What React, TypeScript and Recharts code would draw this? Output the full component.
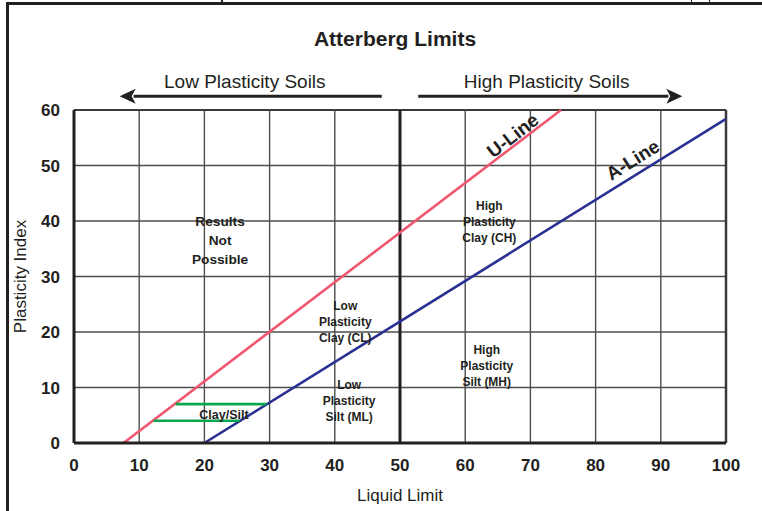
import { LineChart, Line, XAxis, YAxis, CartesianGrid, ReferenceLine, ReferenceDot } from "recharts"

const FONT = "'Liberation Sans', Arial, Helvetica, sans-serif"
const INK = "#231f20"

const xTicks = [0, 10, 20, 30, 40, 50, 60, 70, 80, 90, 100]
const yTicks = [0, 10, 20, 30, 40, 50, 60]

// U-line and A-line end points (LL, PI)
const uLine = [
  { ll: 7.6, pi: 0 },
  { ll: 74.7, pi: 60 },
]
const aLine = [
  { ll: 20, pi: 0 },
  { ll: 100, pi: 58.4 },
]
// clay/silt band limits
const bandLow = [
  { ll: 12.2, pi: 4 },
  { ll: 25.4, pi: 4 },
]
const bandHigh = [
  { ll: 15.6, pi: 7 },
  { ll: 29.5, pi: 7 },
]

const zones = [
  { lines: ["Results", "Not", "Possible"], ll: 22.4, pi: 36.4, big: true },
  { lines: ["Low", "Plasticity", "Clay (CL)"], ll: 41.6, pi: 21.8, big: false },
  { lines: ["Low", "Plasticity", "Silt (ML)"], ll: 42.2, pi: 7.6, big: false },
  { lines: ["High", "Plasticity", "Clay (CH)"], ll: 63.7, pi: 39.8, big: false },
  { lines: ["High", "Plasticity", "Silt (MH)"], ll: 63.3, pi: 13.9, big: false },
]

const lineNames = [
  { text: "U-Line", ll: 67.3, pi: 55.4, angle: -37.5 },
  { text: "A-Line", ll: 85.7, pi: 51, angle: -32 },
]

const soilGroups = [
  { text: "Low Plasticity Soils", ll: 26.2, from: 47.2, to: 7.0 },
  { text: "High Plasticity Soils", ll: 72.5, from: 52.8, to: 93.3 },
]

function Arrow(props: any) {
  const { x1, y1, x2, y2 } = props
  const dir = x2 > x1 ? 1 : -1
  const tip = x2
  const base = x2 - dir * 16
  return (
    <g>
      <line x1={x1} y1={y1} x2={base + dir * 2} y2={y2} stroke={INK} strokeWidth={3} />
      <polygon points={`${tip},${y2} ${base},${y2 - 7.5} ${base + dir * 4},${y2} ${base},${y2 + 7.5}`} fill={INK} />
    </g>
  )
}

export default function App() {
  return (
    <div style={{ position: "absolute", left: 0, top: 0, width: 762, height: 511, background: "#fff", fontFamily: FONT }}>
      <div style={{ position: "absolute", left: 6, top: 2, width: 756, height: 509, borderLeft: `3px solid ${INK}`, borderTop: `3px solid ${INK}` }} />
      <div style={{ position: "absolute", left: 221, top: 0, width: 2, height: 3, background: INK }} />
      <div style={{ position: "absolute", left: 691, top: 0, width: 1, height: 3, background: INK }} />
      <div style={{ position: "absolute", left: 709, top: 0, width: 1, height: 3, background: INK }} />
      <div style={{ position: "absolute", left: 0, top: 27, width: 790, textAlign: "center", fontSize: 21, fontWeight: "bold", color: INK }}>
        Atterberg Limits
      </div>
      <LineChart width={762} height={511} margin={{ top: 110, right: 36, bottom: 0, left: 0 }} style={{ position: "absolute", left: 0, top: 0 }}>
        <CartesianGrid stroke="#4d4d4d" strokeWidth={1.4} />
        <XAxis
          type="number"
          dataKey="ll"
          domain={[0, 100]}
          ticks={xTicks}
          interval={0}
          height={68}
          tickLine={false}
          tickSize={6}
          tickMargin={10}
          axisLine={{ stroke: INK, strokeWidth: 3 }}
          tick={{ fill: INK, fontSize: 17, fontWeight: "bold", fontFamily: FONT }}
          label={{
            content: (p: any) => (
              <text x={p.viewBox.x + p.viewBox.width / 2} y={p.viewBox.y + 52} textAnchor="middle" dominantBaseline="central" fill={INK} fontSize={17} fontFamily={FONT}>
                Liquid Limit
              </text>
            ),
          }}
        />
        <YAxis
          type="number"
          domain={[0, 60]}
          ticks={yTicks}
          interval={0}
          width={74}
          tickLine={false}
          tickSize={6}
          tickMargin={8}
          axisLine={{ stroke: INK, strokeWidth: 3 }}
          tick={{ fill: INK, fontSize: 17, fontWeight: "bold", fontFamily: FONT }}
          label={{
            content: (p: any) => {
              const cx = p.viewBox.x + 20
              const cy = p.viewBox.y + p.viewBox.height / 2
              return (
                <text x={cx} y={cy} transform={`rotate(-90 ${cx} ${cy})`} textAnchor="middle" dominantBaseline="central" fill={INK} fontSize={17} fontFamily={FONT}>
                  Plasticity Index
                </text>
              )
            },
          }}
        />
        <ReferenceLine x={100} stroke="#3a3a3a" strokeWidth={2.5} />
        <ReferenceLine y={60} stroke="#3a3a3a" strokeWidth={2} />
        <ReferenceLine x={50} stroke={INK} strokeWidth={3} />

        <Line data={uLine} dataKey="pi" stroke="#f0566e" strokeWidth={2.6} dot={false} isAnimationActive={false} />
        <Line data={aLine} dataKey="pi" stroke="#2b3192" strokeWidth={2.6} dot={false} isAnimationActive={false} />
        <Line data={bandLow} dataKey="pi" stroke="#0aa64f" strokeWidth={2.6} dot={false} isAnimationActive={false} />
        <Line data={bandHigh} dataKey="pi" stroke="#0aa64f" strokeWidth={2.6} dot={false} isAnimationActive={false} />

        {zones.map((z) => (
          <ReferenceDot
            key={z.lines.join(" ")}
            x={z.ll}
            y={z.pi}
            r={0}
            shape={(p: any) => {
              const gap = z.big ? 19 : 16
              return (
                <text x={p.cx} y={p.cy} textAnchor="middle" fill={INK} fontSize={z.big ? 13.7 : 12} fontWeight="bold" fontFamily={FONT}>
                  {z.lines.map((t, i) => (
                    <tspan key={t} x={p.cx} y={p.cy + (i - 1) * gap} dominantBaseline="central">
                      {t}
                    </tspan>
                  ))}
                </text>
              )
            }}
          />
        ))}
        <ReferenceDot
          x={23}
          y={5}
          r={0}
          shape={(p: any) => (
            <text x={p.cx} y={p.cy} textAnchor="middle" dominantBaseline="central" fill={INK} fontSize={12.5} fontWeight="bold" fontFamily={FONT}>
              Clay/Silt
            </text>
          )}
        />
        {lineNames.map((n) => (
          <ReferenceDot
            key={n.text}
            x={n.ll}
            y={n.pi}
            r={0}
            shape={(p: any) => (
              <text x={p.cx} y={p.cy} transform={`rotate(${n.angle} ${p.cx} ${p.cy})`} textAnchor="middle" dominantBaseline="central" fill={INK} fontSize={19} fontWeight="bold" fontFamily={FONT}>
                {n.text}
              </text>
            )}
          />
        ))}
        {soilGroups.map((g) => (
          <ReferenceLine
            key={g.text}
            segment={[
              { x: g.from, y: 62.5 },
              { x: g.to, y: 62.5 },
            ]}
            ifOverflow="visible"
            shape={(p: any) => <Arrow {...p} />}
          />
        ))}
        {soilGroups.map((g) => (
          <ReferenceDot
            key={g.text + "t"}
            x={g.ll}
            y={65.2}
            r={0}
            ifOverflow="visible"
            shape={(p: any) => (
              <text x={p.cx} y={p.cy} textAnchor="middle" dominantBaseline="central" fill={INK} fontSize={19} fontFamily={FONT}>
                {g.text}
              </text>
            )}
          />
        ))}
      </LineChart>
    </div>
  )
}
